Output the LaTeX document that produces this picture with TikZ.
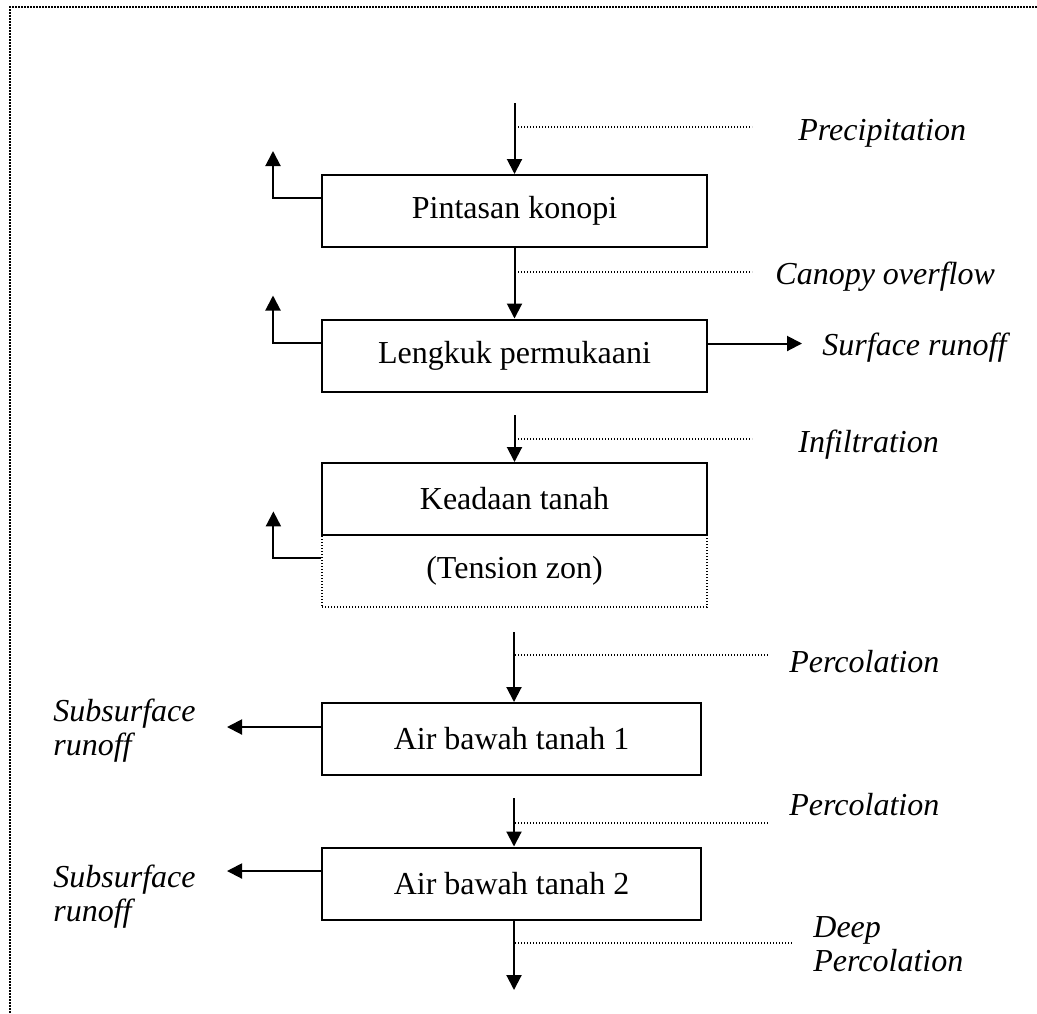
\documentclass[tikz,border=0pt]{standalone}
\usepackage{fontspec}
\setmainfont{Liberation Serif}
\usepackage{tikz}
\usetikzlibrary{arrows.meta,positioning,calc}
\tikzstyle{box} = [rectangle, draw, line width=1pt,
                   minimum width=192.5pt, minimum height=36pt,
                   text centered, inner sep=0pt,
                   font=\fontsize{16}{18}\selectfont]
\tikzstyle{zonebox} = [box, line width=0.6pt, dash pattern=on 0.6pt off 0.9pt]
\tikzstyle{flow} = [anchor=west, inner sep=0pt, align=left,
                    font=\itshape\fontsize{16}{17}\selectfont]
\tikzstyle{arrow} = [-{Triangle[length=7.5pt,width=7.5pt]}, line width=1pt]
\tikzstyle{leader} = [line width=0.6pt, dash pattern=on 0.6pt off 0.9pt]
\tikzstyle{border} = [line width=1pt, dash pattern=on 1pt off 0.5pt]

\begin{document}
\begin{tikzpicture}[x=0.5pt, y=-0.5pt]
    \useasboundingbox (0,0) rectangle (1037,1013);
    \draw[border] (10,1013) -- (10,7) -- (1037,7);

    % Stores
    \node[box] (pintasan) at (514.5,211) {Pintasan konopi};
    \node[box] (lengkuk) at (514.5,355.5) {Lengkuk permukaani};
    \node[zonebox] (tension) at (514.5,571) {(Tension zon)};
    \node[box] (keadaan) at (514.5,499) {Keadaan tanah};
    \node[box, minimum width=189.5pt] (air1) at (511.5,739) {Air bawah tanah 1};
    \node[box, minimum width=189.5pt] (air2) at (511.5,883.5) {Air bawah tanah 2};

    % Flow labels
    \node[flow] (precip) at (798,133) {Precipitation};
    \node[flow] (canopy) at (775,277) {Canopy overflow};
    \node[flow] (runoff) at (822,348) {Surface runoff};
    \node[flow] (infil) at (798,445) {Infiltration};
    \node[flow] (perc1) at (789,662) {Percolation};
    \node[flow] (perc2) at (789,805) {Percolation};
    \node[flow] (deep) at (813,944) {Deep\\Percolation};
    \node[flow] (sub1) at (53,731) {Subsurface\\runoff};
    \node[flow] (sub2) at (53,897) {Subsurface\\runoff};

    % Vertical flows
    \coordinate (rain) at (514.5,103);
    \coordinate (soil) at (514.5,415);
    \coordinate (gw1) at (514,632);
    \coordinate (gw2) at (514,798);
    \coordinate (out) at (514,990);
    \draw[arrow] (rain) -- (pintasan.north);
    \draw[arrow] (pintasan.south) -- (lengkuk.north);
    \draw[arrow] (soil) -- (keadaan.north);
    \draw[arrow] (gw1) -- (gw1 |- air1.north);
    \draw[arrow] (gw2) -- (gw2 |- air2.north);
    \draw[arrow] (gw1 |- air2.south) -- (out);

    % Leader lines to the labels
    \foreach \n/\y/\xe in {precip/127/752, canopy/272/752, infil/439/752,
                           perc1/655/768, perc2/823/768, deep/943/792} {
        \coordinate (\n-a) at (515,\y);
        \coordinate (\n-b) at (\xe,\y);
        \draw[leader] (\n-a) -- (\n-b);
    }

    % Evaporation losses
    \foreach \b in {pintasan,lengkuk,tension}
        \draw[arrow] ([yshift=-12pt]\b.north west) -- ++(-48,0) -- ++(0,-47);

    % Runoff
    \draw[arrow] ([yshift=6pt]lengkuk.east) -- ([yshift=6pt]lengkuk.east -| runoff.west)
        [shorten >=10pt];
    \coordinate (ss1) at (227,727);
    \coordinate (ss2) at (227,871);
    \draw[arrow] (air1.west |- ss1) -- (ss1);
    \draw[arrow] (air2.west |- ss2) -- (ss2);
\end{tikzpicture}
\end{document}
